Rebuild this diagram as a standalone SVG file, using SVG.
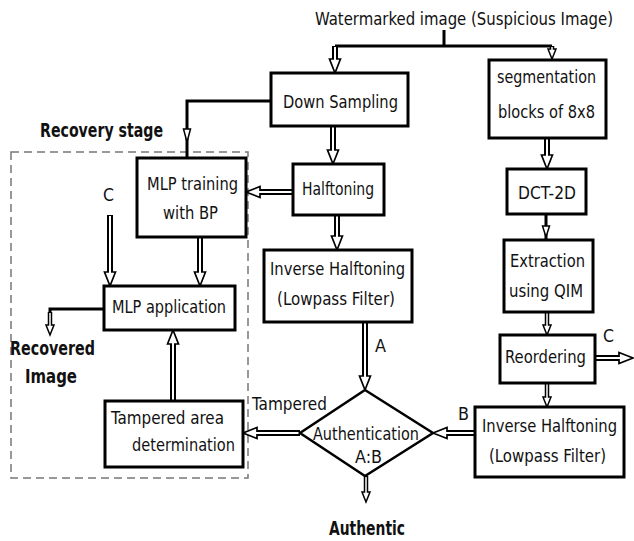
<svg xmlns="http://www.w3.org/2000/svg" width="634" height="541" viewBox="0 0 634 541">
<style>
.bx{fill:#fff;stroke:#000;stroke-width:3}
.t{font-family:"DejaVu Sans Condensed","DejaVu Sans","Noto Sans",sans-serif;font-stretch:condensed;font-size:18.5px;fill:#111}
.tb{font-family:"DejaVu Sans Condensed","DejaVu Sans","Noto Sans",sans-serif;font-stretch:condensed;font-size:19px;font-weight:bold;fill:#111}
.ln{fill:none;stroke:#000;stroke-width:3}
.o{fill:none;stroke:#000;stroke-width:6;marker-end:url(#hb)}
.i{fill:none;stroke:#fff;stroke-width:2}
.os{fill:none;stroke:#000;stroke-width:4.5;marker-end:url(#hs)}
.is{fill:none;stroke:#fff;stroke-width:1.5}
.sh{fill:#fff;stroke:#000;stroke-width:1.5}
</style>
<defs>
<marker id="hb" markerUnits="userSpaceOnUse" viewBox="0 -7 16 14" refX="0" refY="0" markerWidth="16" markerHeight="14" orient="auto" overflow="visible">
<path d="M0,-5.5 L14,0 L0,5.5 Z" fill="#fff" stroke="#000" stroke-width="1.7"/>
</marker>
<marker id="hs" markerUnits="userSpaceOnUse" viewBox="0 -6 12 12" refX="0" refY="0" markerWidth="12" markerHeight="12" orient="auto" overflow="visible">
<path d="M0,-4 L10,0 L0,4 Z" fill="#fff" stroke="#000" stroke-width="1.5"/>
</marker>
</defs>
<rect width="634" height="541" fill="#fff"/>

<g id="recovery-stage">
<rect x="11" y="152" width="237" height="326" fill="none" stroke="#777" stroke-width="1.5" stroke-dasharray="8 5"/>
<text class="tb" x="40" y="137" textLength="123" lengthAdjust="spacingAndGlyphs">Recovery stage</text>
</g>

<g id="connectors">
<path class="ln" d="M444,30 V46" stroke-width="2"/>
<path class="ln" d="M335,46 H552"/>
<path class="o" d="M335,46 V59"/><path class="i" d="M335,47 V60"/>
<path class="os" d="M552,46 V49"/><path class="is" d="M552,47 V50"/>
<path class="o" d="M333,126 V150"/><path class="i" d="M333,127 V151"/>
<path class="o" d="M293,192 H260"/><path class="i" d="M292,192 H259"/>
<path class="o" d="M337,215 V236"/><path class="i" d="M337,216 V237"/>
<path class="o" d="M200,237 V272"/><path class="i" d="M200,238 V273"/>
<path class="o" d="M110,215 V272"/><path class="i" d="M110,216 V273"/>
<path class="ln" d="M271,101 H187 V158" stroke-width="4"/>
<path class="sh" d="M183.5,129 H190.5 L187,142 Z"/>
<path class="ln" d="M104,309 H50 V314"/>
<path class="os" d="M50,312 V325"/><path class="is" d="M50,313 V326"/>
<path class="o" d="M173,401 V344"/><path class="i" d="M173,400 V343"/>
<path class="o" d="M300,433 H257"/><path class="i" d="M299,433 H256"/>
<path class="o" d="M365,322 V376"/><path class="i" d="M365,323 V377"/>
<path class="o" d="M475,433 H447"/><path class="i" d="M474,433 H446"/>
<path class="o" d="M595,358 H619"/><path class="i" d="M596,358 H620"/>
<path class="os" d="M366,476 V492"/><path class="is" d="M366,477 V493"/>
<path class="o" d="M547,138 V155"/><path class="i" d="M547,139 V156"/>
<path class="ln" d="M546,214 V240" stroke-width="4"/>
<path class="sh" d="M542.5,226 H549.5 L546,237 Z"/>
<path class="os" d="M547,312 V325"/><path class="is" d="M547,313 V326"/>
<path class="os" d="M547,383 V397"/><path class="is" d="M547,384 V398"/>
</g>

<g id="title">
<text class="t" x="315" y="25" font-size="17" textLength="298" lengthAdjust="spacingAndGlyphs">Watermarked image (Suspicious Image)</text>
</g>

<g id="down-sampling">
<rect class="bx" x="271" y="73" width="137" height="53"/>
<text class="t" x="283" y="108" font-size="20" textLength="115" lengthAdjust="spacingAndGlyphs">Down Sampling</text>
</g>

<g id="segmentation">
<rect class="bx" x="489" y="60" width="117" height="78"/>
<text class="t" x="497" y="83" textLength="99" lengthAdjust="spacingAndGlyphs">segmentation</text>
<text class="t" x="498" y="118" textLength="97" lengthAdjust="spacingAndGlyphs">blocks of 8x8</text>
</g>

<g id="mlp-training">
<rect class="bx" x="137" y="158" width="109" height="79"/>
<text class="t" x="147" y="190" textLength="91" lengthAdjust="spacingAndGlyphs">MLP training</text>
<text class="t" x="163" y="219" textLength="55" lengthAdjust="spacingAndGlyphs">with BP</text>
</g>

<g id="halftoning">
<rect class="bx" x="293" y="164" width="91" height="51"/>
<text class="t" x="302" y="195" textLength="72" lengthAdjust="spacingAndGlyphs">Halftoning</text>
</g>

<g id="label-c-left">
<text class="t" x="103" y="201" textLength="11" lengthAdjust="spacingAndGlyphs">C</text>
</g>

<g id="mlp-application">
<rect class="bx" x="104" y="286" width="131" height="44"/>
<text class="t" x="112" y="313" textLength="114" lengthAdjust="spacingAndGlyphs">MLP application</text>
</g>

<g id="inverse-halftoning-left">
<rect class="bx" x="264" y="250" width="148" height="72"/>
<text class="t" x="270" y="275" textLength="135" lengthAdjust="spacingAndGlyphs">Inverse Halftoning</text>
<text class="t" x="277" y="305" textLength="118" lengthAdjust="spacingAndGlyphs">(Lowpass Filter)</text>
</g>

<g id="dct">
<rect class="bx" x="507" y="169" width="79" height="45"/>
<text class="t" x="518" y="199" textLength="58" lengthAdjust="spacingAndGlyphs">DCT-2D</text>
</g>

<g id="extraction">
<rect class="bx" x="504" y="240" width="89" height="72"/>
<text class="t" x="510" y="267" textLength="75" lengthAdjust="spacingAndGlyphs">Extraction</text>
<text class="t" x="509" y="297" textLength="74" lengthAdjust="spacingAndGlyphs">using QIM</text>
</g>

<g id="label-a">
<text class="t" x="375" y="352" textLength="11" lengthAdjust="spacingAndGlyphs">A</text>
</g>

<g id="label-c-right">
<text class="t" x="603" y="342" textLength="11" lengthAdjust="spacingAndGlyphs">C</text>
</g>

<g id="reordering">
<rect class="bx" x="500" y="335" width="95" height="48"/>
<text class="t" x="505" y="363" textLength="81" lengthAdjust="spacingAndGlyphs">Reordering</text>
</g>

<g id="recovered-image">
<text class="tb" x="10" y="355" textLength="85" lengthAdjust="spacingAndGlyphs">Recovered</text>
<text class="tb" x="25" y="383" textLength="52" lengthAdjust="spacingAndGlyphs">Image</text>
</g>

<g id="label-tampered">
<text class="t" x="252" y="410" textLength="75" lengthAdjust="spacingAndGlyphs">Tampered</text>
</g>

<g id="tampered-area">
<rect class="bx" x="105" y="401" width="138" height="66"/>
<text class="t" x="111" y="424" textLength="113" lengthAdjust="spacingAndGlyphs">Tampered area</text>
<text class="t" x="132" y="451" textLength="103" lengthAdjust="spacingAndGlyphs">determination</text>
</g>

<g id="authentication">
<polygon points="365,390 433,433 365,476 300,433" fill="#fff" stroke="#000" stroke-width="2.5"/>
<text class="t" x="313" y="440" textLength="106" lengthAdjust="spacingAndGlyphs">Authentication</text>
<text class="t" x="355" y="463" textLength="27" lengthAdjust="spacingAndGlyphs">A:B</text>
</g>

<g id="label-b">
<text class="t" x="458" y="420" textLength="11" lengthAdjust="spacingAndGlyphs">B</text>
</g>

<g id="inverse-halftoning-right">
<rect class="bx" x="475" y="407" width="149" height="70"/>
<text class="t" x="482" y="432" font-size="17.5" textLength="135" lengthAdjust="spacingAndGlyphs">Inverse Halftoning</text>
<text class="t" x="489" y="462" font-size="17.5" textLength="117" lengthAdjust="spacingAndGlyphs">(Lowpass Filter)</text>
</g>

<g id="authentic">
<text class="tb" x="329" y="535" textLength="76" lengthAdjust="spacingAndGlyphs">Authentic</text>
</g>
</svg>
